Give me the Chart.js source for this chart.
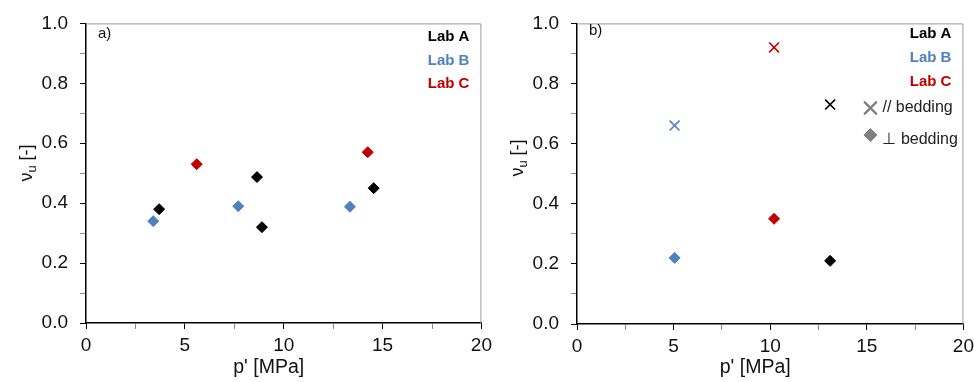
<!DOCTYPE html>
<html>
<head>
<meta charset="utf-8">
<script src="https://cdn.jsdelivr.net/npm/chart.js@4.4.1/dist/chart.umd.min.js"></script>
<style>
  html, body { margin: 0; padding: 0; background: #fff; }
  #wrap { position: relative; width: 974px; height: 382px; overflow: hidden; }
  .pane { position: absolute; top: 0; height: 382px; }
  #pa { left: 0; width: 497px; }
  #pb { left: 487px; width: 492px; }
</style>
</head>
<body>
<div id="wrap">
  <div class="pane" id="pa"><canvas id="chartA"></canvas></div>
  <div class="pane" id="pb"><canvas id="chartB"></canvas></div>
</div>
<script>
/* global Chart */
(function () {
  'use strict';

  // tick labels
  const xTickLabels = ['0', '5', '10', '15', '20'];
  const yTickLabels = ['0.0', '0.2', '0.4', '0.6', '0.8', '1.0'];

  // legend
  const labNames = ['Lab A', 'Lab B', 'Lab C'];
  const labColors = ['#000000', '#4F81BD', '#C00000'];
  const beddingNames = ['// bedding', '\u22A5 bedding'];

  // a) p' [MPa] vs nu_u
  const aLabAx = [3.7, 8.65, 8.9, 14.55];
  const aLabAy = [0.38, 0.487, 0.32, 0.45];
  const aLabBx = [3.4, 7.7, 13.35];
  const aLabBy = [0.34, 0.39, 0.388];
  const aLabCx = [5.6, 14.25];
  const aLabCy = [0.53, 0.57];

  // b) one point per lab (A, B, C): parallel (x) and perpendicular (diamond) to bedding
  const bParX = [13.1, 5.05, 10.2];
  const bParY = [0.73, 0.66, 0.92];
  const bPerpX = [13.1, 5.05, 10.2];
  const bPerpY = [0.21, 0.22, 0.35];

  const FONT = "'Liberation Sans', Arial, sans-serif";

  function pts(xs, ys) {
    return xs.map(function (x, i) { return { x: x, y: ys[i] }; });
  }

  function diamondSet(xs, ys, color) {
    return {
      data: pts(xs, ys),
      pointStyle: 'rectRot',
      pointRadius: 5.5,
      pointBorderWidth: 1,
      pointBackgroundColor: color,
      pointBorderColor: color,
      showLine: false
    };
  }

  function crossSet(xs, ys, color) {
    return {
      data: pts(xs, ys),
      pointStyle: 'crossRot',
      pointRadius: 7,
      pointBorderWidth: 1.6,
      pointBackgroundColor: color,
      pointBorderColor: color,
      showLine: false
    };
  }

  function tickColor(ctx) {
    return ctx.tick && ctx.tick.label !== '' ? '#000000' : '#8c8c8c';
  }

  function scales(yWidth, xHeight) {
    return {
      x: {
        type: 'linear',
        min: 0,
        max: 20,
        afterFit: function (s) { s.height = xHeight; },
        afterBuildTicks: function (s) {
          s.ticks = [];
          for (let i = 0; i <= 8; i++) s.ticks.push({ value: i * 2.5 });
        },
        ticks: {
          autoSkip: false,
          maxRotation: 0,
          padding: 5,
          color: '#111',
          font: { family: FONT, size: 19 },
          callback: function (v) {
            const k = Math.round(v * 2);
            return k % 10 === 0 ? xTickLabels[k / 10] : '';
          }
        },
        grid: { drawOnChartArea: false, tickLength: 6, tickColor: tickColor, tickWidth: 1 },
        border: { display: true, color: '#000', width: 1.5 }
      },
      y: {
        type: 'linear',
        min: 0,
        max: 1,
        afterFit: function (s) { s.width = yWidth; },
        afterBuildTicks: function (s) {
          s.ticks = [];
          for (let i = 0; i <= 10; i++) s.ticks.push({ value: i / 10 });
        },
        ticks: {
          autoSkip: false,
          padding: 12,
          color: '#111',
          font: { family: FONT, size: 19 },
          callback: function (v) {
            const k = Math.round(v * 10);
            return k % 2 === 0 ? yTickLabels[k / 2] : '';
          }
        },
        grid: { drawOnChartArea: false, tickLength: 6, tickColor: tickColor, tickWidth: 1 },
        border: { display: true, color: '#000', width: 1.5 }
      }
    };
  }

  // frame, axis titles, panel letter and the text legend
  function decor(opts) {
    return {
      id: 'decor',
      beforeDatasetsDraw: function (chart) {
        const a = chart.chartArea;
        const ctx = chart.ctx;
        ctx.save();
        ctx.strokeStyle = '#9a9a9a';
        ctx.lineWidth = 1;
        ctx.beginPath();
        ctx.moveTo(a.left, a.top + 0.5);
        ctx.lineTo(a.right - 0.5, a.top + 0.5);
        ctx.lineTo(a.right - 0.5, a.bottom);
        ctx.stroke();
        ctx.restore();
      },
      afterDraw: function (chart) {
        const a = chart.chartArea;
        const ctx = chart.ctx;
        ctx.save();

        // x title
        ctx.fillStyle = '#111';
        ctx.font = '19.5px ' + FONT;
        ctx.textAlign = 'center';
        ctx.textBaseline = 'alphabetic';
        ctx.fillText("p' [MPa]", (a.left + a.right) / 2 - 15, 373);

        // y title: nu with subscript u
        ctx.save();
        ctx.translate(opts.yTitleX, opts.yTitleY);
        ctx.rotate(-Math.PI / 2);
        ctx.textAlign = 'left';
        const big = '18px ' + FONT;
        const small = '13px ' + FONT;
        ctx.font = big;
        const w1 = ctx.measureText('\u03BD').width;
        const w3 = ctx.measureText(' [-]').width;
        ctx.font = small;
        const w2 = ctx.measureText('u').width;
        const x0 = -(w1 + w2 + w3) / 2;
        ctx.font = big;
        ctx.fillText('\u03BD', x0, 6);
        ctx.font = small;
        ctx.fillText('u', x0 + w1, 10);
        ctx.font = big;
        ctx.fillText(' [-]', x0 + w1 + w2, 6);
        ctx.restore();

        // panel letter
        ctx.font = '15px ' + FONT;
        ctx.textAlign = 'left';
        ctx.textBaseline = 'middle';
        ctx.fillStyle = '#111';
        ctx.fillText(opts.letter, a.left + 12, opts.labY[0] - 3);

        // lab legend
        ctx.font = 'bold 15px ' + FONT;
        ctx.textAlign = 'right';
        labNames.forEach(function (n, i) {
          ctx.fillStyle = labColors[i];
          ctx.fillText(n, a.right - 12, opts.labY[i]);
        });

        // bedding legend
        if (opts.bedding) {
          const lx = a.right - 93;
          ctx.font = '16px ' + FONT;
          ctx.textAlign = 'left';
          ctx.fillStyle = '#222';
          ctx.fillText(beddingNames[0], lx + 12, 108);
          ctx.fillText(beddingNames[1], lx + 12, 140);
          ctx.strokeStyle = '#7f7f7f';
          ctx.fillStyle = '#7f7f7f';
          ctx.lineWidth = 2.2;
          Chart.helpers.drawPoint(ctx, { pointStyle: 'crossRot', radius: 9, borderWidth: 2.2 }, lx, 108);
          ctx.lineWidth = 1;
          Chart.helpers.drawPoint(ctx, { pointStyle: 'rectRot', radius: 6.5, borderWidth: 1 }, lx, 135);
        }
        ctx.restore();
      }
    };
  }

  function baseOptions(pad, yWidth, xHeight) {
    return {
      responsive: false,
      animation: false,
      layout: { padding: pad },
      plugins: { legend: { display: false }, tooltip: { enabled: false } },
      scales: scales(yWidth, xHeight)
    };
  }

  function makeCanvas(id, w) {
    const c = document.getElementById(id);
    c.width = w;
    c.height = 382;
    c.style.width = w + 'px';
    c.style.height = '382px';
    return c;
  }

  new Chart(makeCanvas('chartA', 497), {
    type: 'scatter',
    data: {
      datasets: [
        diamondSet(aLabAx, aLabAy, labColors[0]),
        diamondSet(aLabBx, aLabBy, labColors[1]),
        diamondSet(aLabCx, aLabCy, labColors[2])
      ]
    },
    options: baseOptions({ left: 0, right: 12, top: 20, bottom: 0 }, 86, 59),
    plugins: [decor({ letter: 'a)', labY: [37, 61, 84], yTitleX: 26, yTitleY: 163, bedding: false })]
  });

  new Chart(makeCanvas('chartB', 492), {
    type: 'scatter',
    data: {
      datasets: [
        crossSet(bParX, bParY, labColors.slice()),
        diamondSet(bPerpX, bPerpY, labColors.slice())
      ]
    },
    options: baseOptions({ left: 0, right: 12, top: 18, bottom: 0 }, 90, 58),
    plugins: [decor({ letter: 'b)', labY: [34, 58, 82], yTitleX: 30, yTitleY: 158, bedding: true })]
  });
})();
</script>
</body>
</html>
